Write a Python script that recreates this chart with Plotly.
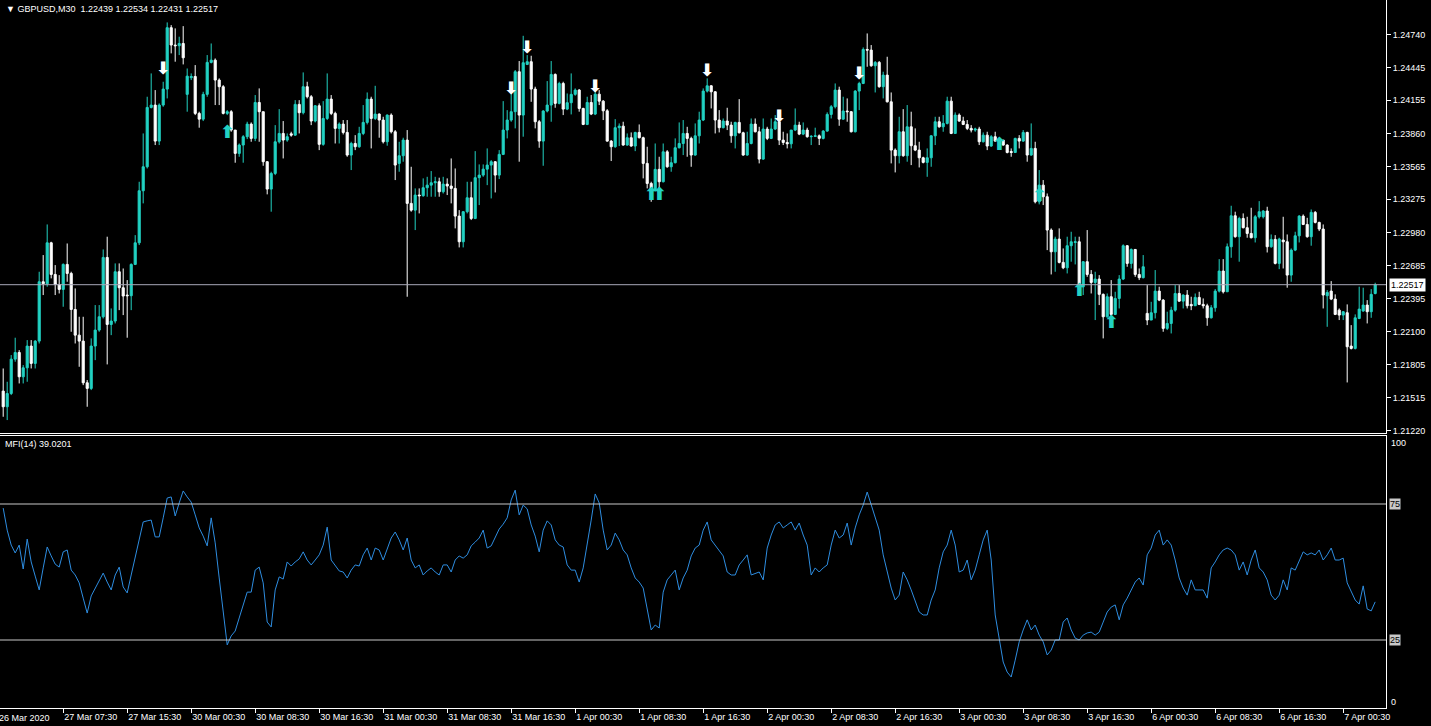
import plotly.graph_objects as go

# ---------------- data (GBPUSD M30) ----------------
open_ = [
1.21572,1.21433,1.21551,1.21856,1.21915,1.21699,1.21779,1.21972,1.21818,1.22016,
1.22543,1.22525,1.22889,1.22608,1.22519,1.22475,1.22697,1.22617,1.22297,1.22069,
1.22016,1.21646,1.21596,1.21972,1.22114,1.22232,1.22759,1.22164,1.22194,1.22632,
1.22490,1.22425,1.22419,1.22697,1.22889,1.23351,1.23564,1.24091,1.24112,1.23792,
1.24112,1.24254,1.24799,1.24645,1.24639,1.24659,1.24207,1.24355,1.24366,1.24038,
1.23987,1.24207,1.24491,1.24511,1.24334,1.24275,1.24038,1.24053,1.23890,1.23683,
1.23757,1.23831,1.23943,1.23816,1.24135,1.24053,1.23609,1.23366,1.23505,1.23786,
1.23860,1.23801,1.23857,1.23845,1.24118,1.24044,1.24275,1.24186,1.23970,1.24106,
1.23763,1.23993,1.24165,1.24038,1.23905,1.23943,1.23869,1.23668,1.23771,1.23742,
1.23860,1.23958,1.24165,1.23993,1.24032,1.23979,1.23786,1.24023,1.23875,1.23594,
1.23662,1.23801,1.23239,1.23179,1.23313,1.23307,1.23378,1.23401,1.23422,1.23431,
1.23342,1.23410,1.23393,1.23372,1.23126,1.22898,1.23165,1.23289,1.23105,1.23467,
1.23490,1.23543,1.23579,1.23609,1.23490,1.23674,1.23890,1.23979,1.24053,1.24408,
1.24023,1.24473,1.24497,1.24254,1.23964,1.23792,1.24059,1.24112,1.24384,1.24127,
1.24304,1.24076,1.24133,1.24207,1.24245,1.24082,1.23940,1.24135,1.24032,1.24209,
1.24147,1.24061,1.23792,1.23742,1.23911,1.23925,1.23757,1.23822,1.23748,1.23869,
1.23822,1.23594,1.23416,1.23357,1.23541,1.23431,1.23697,1.23564,1.23600,1.23733,
1.23771,1.23860,1.23816,1.23668,1.23839,1.23979,1.24236,1.24283,1.24230,1.23979,
1.23911,1.23970,1.23934,1.23839,1.23958,1.23866,1.23668,1.23771,1.23943,1.23875,
1.23632,1.23899,1.23816,1.23899,1.23964,1.23801,1.23780,1.23768,1.23890,1.23934,
1.23854,1.23890,1.23831,1.23834,1.23839,1.23816,1.23881,1.24029,1.24097,1.24245,
1.23987,1.24059,1.24053,1.23875,1.24236,1.24304,1.24606,1.24600,1.24461,1.24491,
1.24275,1.24378,1.24141,1.23712,1.23662,1.23875,1.23662,1.23919,1.23751,1.23712,
1.23644,1.23603,1.23644,1.23839,1.23964,1.23919,1.23949,1.24147,1.23860,1.24023,
1.23970,1.23940,1.23905,1.23890,1.23899,1.23786,1.23845,1.23748,1.23831,1.23792,
1.23801,1.23757,1.23700,1.23691,1.23816,1.23792,1.23869,1.23668,1.23727,1.23253,
1.23401,1.23298,1.23002,1.22809,1.22922,1.22715,1.22667,1.22863,1.22892,1.22898,
1.22499,1.22721,1.22608,1.22537,1.22567,1.22431,1.22232,1.22410,1.22253,1.22395,
1.22567,1.22863,1.22706,1.22830,1.22608,1.22579,1.22262,1.22203,1.22268,1.22460,
1.22380,1.22129,1.22173,1.22291,1.22439,1.22371,1.22425,1.22342,1.22330,1.22404,
1.22342,1.22330,1.22223,1.22312,1.22460,1.22638,1.22454,1.22854,1.23129,1.22943,
1.23105,1.23023,1.22972,1.22934,1.23120,1.23120,1.23171,1.22854,1.22919,1.22706,
1.22913,1.22898,1.22602,1.22824,1.22951,1.23126,1.23052,1.22943,1.23159,1.23070,
1.23011,1.22419,1.22460,1.22389,1.22291,1.22247,1.22268,1.21972,1.21951,1.22217,
1.22283,1.22336,1.22277,1.22439]

high = [
1.21773,1.21655,1.21892,1.22046,1.21936,1.21803,1.22025,1.22025,1.22025,1.22632,
1.22780,1.23052,1.22898,1.22691,1.22602,1.22706,1.22883,1.22632,1.22484,1.22232,
1.22232,1.21670,1.22040,1.22336,1.22336,1.22830,1.22943,1.22306,1.22706,1.22706,
1.22661,1.22558,1.22706,1.22957,1.23431,1.23860,1.24186,1.24393,1.24245,1.24127,
1.24319,1.24846,1.24822,1.24793,1.24719,1.24813,1.24437,1.24393,1.24467,1.24053,
1.24230,1.24556,1.24659,1.24526,1.24349,1.24289,1.24067,1.24067,1.23890,1.23771,
1.23845,1.23964,1.23958,1.24201,1.24260,1.24053,1.23615,1.23520,1.23934,1.24076,
1.23970,1.23860,1.23875,1.24156,1.24156,1.24402,1.24319,1.24201,1.24112,1.24127,
1.24147,1.24393,1.24201,1.24053,1.23958,1.23979,1.23979,1.23786,1.23845,1.23919,
1.24112,1.24224,1.24186,1.24283,1.24038,1.24008,1.24029,1.24038,1.23890,1.23786,
1.23822,1.23890,1.23564,1.23372,1.23372,1.23461,1.23475,1.23526,1.23475,1.23467,
1.23475,1.23461,1.23638,1.23549,1.23179,1.23171,1.23431,1.23431,1.23703,1.23585,
1.23585,1.23727,1.23623,1.23615,1.23712,1.24147,1.24067,1.24224,1.24423,1.24503,
1.24727,1.24556,1.24550,1.24275,1.23979,1.24067,1.24325,1.24503,1.24393,1.24319,
1.24319,1.24215,1.24393,1.24260,1.24254,1.24088,1.24186,1.24201,1.24245,1.24245,
1.24156,1.24076,1.23801,1.23987,1.23949,1.23964,1.23860,1.23869,1.23875,1.23940,
1.23831,1.23742,1.23431,1.23771,1.23653,1.23771,1.23712,1.23653,1.23816,1.23958,
1.23979,1.23919,1.23831,1.23949,1.24053,1.24260,1.24349,1.24289,1.24236,1.24067,
1.23993,1.24088,1.23964,1.23964,1.24165,1.23875,1.23875,1.23993,1.23993,1.23919,
1.23993,1.23919,1.23993,1.24023,1.24047,1.23875,1.23860,1.23890,1.24082,1.23964,
1.23958,1.23911,1.23845,1.23911,1.23851,1.23890,1.24047,1.24112,1.24304,1.24275,
1.24186,1.24171,1.24059,1.24245,1.24319,1.24624,1.24748,1.24645,1.24503,1.24503,
1.24408,1.24541,1.24224,1.23727,1.24008,1.24076,1.24112,1.24053,1.23905,1.23786,
1.23653,1.23727,1.23845,1.24008,1.24008,1.24023,1.24186,1.24186,1.24047,1.24038,
1.24008,1.23979,1.23934,1.23911,1.23919,1.23869,1.23875,1.23845,1.23875,1.23816,
1.23801,1.23763,1.23727,1.23822,1.23845,1.23890,1.23875,1.23949,1.23786,1.23535,
1.23446,1.23327,1.23017,1.22943,1.23017,1.22839,1.22943,1.22987,1.22943,1.22943,
1.22727,1.23002,1.22647,1.22632,1.22602,1.22439,1.22439,1.22558,1.22454,1.22602,
1.22875,1.22869,1.22839,1.22830,1.22661,1.22780,1.22513,1.22365,1.22647,1.22499,
1.22389,1.22277,1.22321,1.22513,1.22513,1.22431,1.22469,1.22410,1.22439,1.22454,
1.22395,1.22348,1.22336,1.22478,1.22744,1.22744,1.22883,1.23218,1.23165,1.23120,
1.23150,1.23120,1.23200,1.23135,1.23259,1.23179,1.23209,1.22963,1.22957,1.22934,
1.23120,1.22963,1.22839,1.22987,1.23135,1.23141,1.23111,1.23185,1.23171,1.23076,
1.23052,1.22469,1.22549,1.22431,1.22306,1.22283,1.22342,1.22158,1.22253,1.22499,
1.22490,1.22380,1.22478,1.22534]

low = [
1.21344,1.21315,1.21537,1.21833,1.21640,1.21640,1.21655,1.21773,1.21773,1.21995,
1.22425,1.22499,1.22573,1.22425,1.22439,1.22321,1.22543,1.22099,1.21995,1.21788,
1.21625,1.21433,1.21581,1.21847,1.22099,1.22217,1.21809,1.22069,1.22173,1.22291,
1.22247,1.22046,1.22291,1.22691,1.22869,1.23239,1.23549,1.24082,1.23757,1.23757,
1.24097,1.24171,1.24571,1.24497,1.24556,1.24473,1.24053,1.24334,1.24023,1.23911,
1.23970,1.24186,1.24482,1.24112,1.24112,1.24029,1.24023,1.23875,1.23600,1.23653,
1.23600,1.23810,1.23786,1.23792,1.23786,1.23573,1.23319,1.23165,1.23490,1.23771,
1.23638,1.23786,1.23831,1.23839,1.23860,1.24029,1.24171,1.23934,1.23958,1.23712,
1.23751,1.23979,1.24023,1.23771,1.23771,1.23851,1.23653,1.23535,1.23712,1.23733,
1.23845,1.23940,1.23727,1.23979,1.23822,1.23771,1.23751,1.23860,1.23446,1.23520,
1.23609,1.22410,1.23165,1.23002,1.23150,1.23298,1.23298,1.23298,1.23298,1.23298,
1.23327,1.23313,1.23239,1.23017,1.22848,1.22848,1.23150,1.23091,1.23099,1.23224,
1.23475,1.23401,1.23283,1.23336,1.23455,1.23668,1.23816,1.23964,1.23905,1.23609,
1.23831,1.24467,1.24141,1.23905,1.23733,1.23573,1.24047,1.23964,1.24088,1.24118,
1.24023,1.24067,1.24029,1.24195,1.24053,1.23934,1.23934,1.24023,1.24023,1.24112,
1.23979,1.23786,1.23615,1.23733,1.23748,1.23751,1.23751,1.23742,1.23703,1.23816,
1.23461,1.23372,1.23253,1.23348,1.23357,1.23425,1.23555,1.23520,1.23594,1.23727,
1.23668,1.23653,1.23564,1.23662,1.23771,1.23970,1.24224,1.24082,1.23860,1.23869,
1.23905,1.23890,1.23777,1.23727,1.23860,1.23662,1.23662,1.23763,1.23869,1.23594,
1.23626,1.23801,1.23810,1.23890,1.23757,1.23757,1.23727,1.23727,1.23881,1.23845,
1.23845,1.23822,1.23757,1.23828,1.23757,1.23807,1.23875,1.23993,1.24082,1.23928,
1.23982,1.23964,1.23869,1.23869,1.24067,1.24298,1.24452,1.24452,1.24224,1.24266,
1.24171,1.24135,1.23594,1.23514,1.23594,1.23653,1.23609,1.23579,1.23703,1.23558,
1.23594,1.23475,1.23564,1.23757,1.23911,1.23875,1.23940,1.23854,1.23860,1.23964,
1.23934,1.23890,1.23869,1.23875,1.23757,1.23780,1.23712,1.23742,1.23786,1.23771,
1.23751,1.23683,1.23653,1.23686,1.23727,1.23786,1.23609,1.23662,1.23239,1.23230,
1.23224,1.22824,1.22608,1.22632,1.22706,1.22655,1.22617,1.22721,1.22697,1.22425,
1.22425,1.22587,1.22439,1.22203,1.22336,1.22040,1.22223,1.22232,1.22247,1.22306,
1.22558,1.22676,1.22661,1.22587,1.22558,1.22573,1.22158,1.22203,1.22217,1.22371,
1.22099,1.22114,1.22084,1.22277,1.22365,1.22306,1.22306,1.22291,1.22330,1.22336,
1.22306,1.22152,1.22217,1.22277,1.22448,1.22439,1.22454,1.22756,1.22934,1.22721,
1.23017,1.22934,1.22928,1.22892,1.23105,1.23105,1.22803,1.22845,1.22697,1.22655,
1.22661,1.22490,1.22543,1.22815,1.22892,1.23046,1.22934,1.22863,1.23061,1.22993,
1.22306,1.22143,1.22380,1.22247,1.22203,1.22203,1.21649,1.21942,1.21942,1.22211,
1.22277,1.22173,1.22223,1.22431]

close = [
1.21433,1.21551,1.21856,1.21915,1.21699,1.21779,1.21972,1.21818,1.22016,1.22543,
1.22525,1.22889,1.22608,1.22519,1.22475,1.22697,1.22617,1.22297,1.22069,1.22016,
1.21646,1.21596,1.21972,1.22114,1.22232,1.22759,1.22164,1.22194,1.22632,1.22490,
1.22416,1.22419,1.22697,1.22889,1.23351,1.23564,1.24091,1.24112,1.23792,1.24112,
1.24254,1.24799,1.24645,1.24639,1.24659,1.24532,1.24369,1.24366,1.24038,1.23987,
1.24207,1.24491,1.24511,1.24334,1.24275,1.24038,1.24053,1.23890,1.23683,1.23757,
1.23831,1.23943,1.23816,1.24135,1.24053,1.23609,1.23366,1.23505,1.23786,1.23860,
1.23801,1.23831,1.23845,1.24118,1.24044,1.24275,1.24186,1.23970,1.24106,1.23763,
1.23993,1.24165,1.24038,1.23905,1.23943,1.23869,1.23668,1.23771,1.23742,1.23860,
1.23958,1.24165,1.23993,1.24032,1.23979,1.23786,1.24023,1.23875,1.23579,1.23662,
1.23801,1.23239,1.23179,1.23313,1.23307,1.23378,1.23401,1.23422,1.23431,1.23342,
1.23410,1.23393,1.23372,1.23126,1.22898,1.23165,1.23289,1.23105,1.23467,1.23490,
1.23543,1.23579,1.23609,1.23490,1.23674,1.23890,1.23979,1.24053,1.24408,1.24023,
1.24488,1.24497,1.24254,1.23964,1.23792,1.24059,1.24112,1.24384,1.24127,1.24304,
1.24076,1.24133,1.24207,1.24245,1.24082,1.23940,1.24135,1.24032,1.24209,1.24147,
1.24061,1.23792,1.23742,1.23911,1.23925,1.23757,1.23822,1.23748,1.23869,1.23822,
1.23594,1.23416,1.23357,1.23541,1.23431,1.23697,1.23564,1.23600,1.23733,1.23771,
1.23860,1.23816,1.23668,1.23839,1.23979,1.24236,1.24283,1.24230,1.23979,1.23911,
1.23970,1.23934,1.23839,1.23958,1.23866,1.23668,1.23771,1.23943,1.23875,1.23632,
1.23899,1.23816,1.23899,1.23964,1.23801,1.23780,1.23768,1.23890,1.23934,1.23854,
1.23890,1.23831,1.23834,1.23839,1.23816,1.23881,1.24029,1.24097,1.24245,1.23987,
1.24059,1.24053,1.23875,1.24236,1.24304,1.24606,1.24600,1.24461,1.24491,1.24275,
1.24378,1.24141,1.23712,1.23662,1.23875,1.23662,1.23919,1.23751,1.23712,1.23644,
1.23603,1.23644,1.23839,1.23964,1.23919,1.23949,1.24147,1.23860,1.24023,1.23970,
1.23940,1.23905,1.23890,1.23899,1.23786,1.23845,1.23748,1.23831,1.23792,1.23801,
1.23757,1.23691,1.23691,1.23816,1.23792,1.23869,1.23668,1.23727,1.23253,1.23401,
1.23298,1.23002,1.22809,1.22922,1.22715,1.22667,1.22863,1.22898,1.22898,1.22499,
1.22721,1.22608,1.22537,1.22567,1.22431,1.22232,1.22410,1.22253,1.22395,1.22567,
1.22863,1.22706,1.22830,1.22608,1.22579,1.22676,1.22203,1.22268,1.22460,1.22380,
1.22129,1.22173,1.22291,1.22439,1.22371,1.22425,1.22330,1.22330,1.22404,1.22342,
1.22330,1.22223,1.22312,1.22460,1.22638,1.22454,1.22854,1.23129,1.22943,1.23105,
1.23023,1.22972,1.22934,1.23120,1.23165,1.23171,1.22854,1.22919,1.22706,1.22922,
1.22898,1.22602,1.22824,1.22951,1.23126,1.23052,1.22943,1.23159,1.23070,1.23011,
1.22425,1.22448,1.22389,1.22253,1.22247,1.22277,1.21966,1.21951,1.22223,1.22300,
1.22336,1.22277,1.22431,1.22517]

mfi = [
73.5,65.4,59.9,57.0,59.9,51.1,62.1,53.7,48.5,43.4,
51.5,59.2,55.9,52.9,51.8,57.4,58.1,50.7,48.9,46.0,
40.4,34.9,41.2,44.1,47.1,49.6,46.3,43.4,48.9,51.8,
44.5,42.3,48.9,55.1,61.8,68.4,68.8,69.1,62.9,62.9,
69.9,77.2,77.6,70.6,75.4,79.8,77.6,75.7,71.0,66.2,
63.2,59.6,69.9,60.7,47.8,35.3,23.2,26.5,28.3,33.1,
37.9,42.6,42.6,50.7,51.8,46.0,31.6,29.8,43.4,48.2,
47.4,53.7,52.2,53.7,54.8,57.4,54.4,52.6,54.4,56.3,
59.9,66.5,54.4,52.2,50.4,50.0,47.8,50.7,52.6,52.2,
56.3,58.8,54.4,58.8,58.1,54.4,58.8,62.5,64.7,61.8,
58.1,62.5,54.4,51.5,52.6,48.9,50.4,51.5,50.0,48.9,
52.6,52.6,50.0,54.4,55.9,55.1,56.3,59.6,61.0,62.5,
65.4,58.8,59.6,62.5,65.8,67.6,69.9,76.5,80.1,71.0,
74.6,73.2,67.3,63.2,57.4,65.4,68.8,67.3,61.8,59.9,
59.2,52.6,50.7,50.7,46.3,51.5,59.9,69.1,78.7,75.4,
65.4,58.1,59.9,64.3,61.8,58.1,56.3,51.5,47.8,46.3,
44.1,36.0,28.7,30.5,29.4,42.6,47.1,48.9,50.7,43.4,
47.8,50.7,55.9,58.8,59.9,65.4,68.4,61.8,59.9,58.1,
55.9,50.0,48.9,48.9,52.6,54.4,56.3,48.9,49.6,50.0,
47.1,58.8,63.6,67.3,68.4,66.2,67.3,68.4,65.4,68.0,
63.6,59.9,48.9,51.5,50.0,51.5,52.6,59.9,65.4,62.5,
63.6,68.0,59.9,66.2,71.0,74.6,79.4,74.6,69.9,65.4,
56.3,50.0,44.1,39.7,41.5,50.0,47.1,43.4,39.7,35.3,
34.2,34.2,39.7,43.4,51.5,57.4,59.9,65.4,59.9,50.0,
50.7,54.4,47.1,50.7,56.3,61.8,65.4,54.4,34.2,25.0,
16.9,13.2,11.4,17.6,24.3,28.7,32.4,28.7,30.5,26.8,
24.3,19.5,21.3,25.0,25.0,31.6,33.1,28.7,25.7,25.0,
26.8,27.6,27.9,26.8,27.9,31.6,35.3,37.1,37.9,32.4,
37.9,40.4,43.4,46.3,47.8,45.2,56.3,58.8,63.6,65.4,
59.9,61.8,59.9,54.4,47.8,44.1,41.5,47.1,43.4,43.4,
43.4,40.4,51.5,53.7,56.3,58.1,58.8,58.1,56.3,50.7,
53.7,48.9,54.4,58.1,51.5,50.0,47.1,41.5,39.7,41.5,
47.1,43.4,51.5,50.7,54.4,57.4,56.3,57.0,56.3,58.1,
54.4,56.3,58.8,54.4,54.4,55.1,46.0,42.6,39.7,38.2,
44.9,36.4,35.7,39.0201]

# signal arrows (bar index, price)
down_bars = [40, 127, 131, 148, 176, 194, 214]
down_prices = [1.24423, 1.24245, 1.24616, 1.24263, 1.24408, 1.23999, 1.24379]
up_bars = [56, 162, 164, 249, 259, 269, 277]
up_prices = [1.23861, 1.23313, 1.23313, 1.23757, 1.23298, 1.22458, 1.22174]

# axis labels
price_ticks = [1.24740, 1.24445, 1.24155, 1.23860, 1.23565, 1.23275, 1.22980,
               1.22685, 1.22395, 1.22100, 1.21805, 1.21515, 1.21220]
time_tick_bars = [15, 31, 47, 63, 79, 95, 111, 127, 143, 159, 175,
                  191, 207, 223, 239, 255, 271, 287, 303, 319, 335]
time_tick_text = ["27 Mar 07:30", "27 Mar 15:30", "30 Mar 00:30", "30 Mar 08:30",
                  "30 Mar 16:30", "31 Mar 00:30", "31 Mar 08:30", "31 Mar 16:30",
                  "1 Apr 00:30", "1 Apr 08:30", "1 Apr 16:30", "2 Apr 00:30",
                  "2 Apr 08:30", "2 Apr 16:30", "3 Apr 00:30", "3 Apr 08:30",
                  "3 Apr 16:30", "6 Apr 00:30", "6 Apr 08:30", "6 Apr 16:30",
                  "7 Apr 00:30"]
first_date_label = "26 Mar 2020"
last_price = 1.22517
mfi_levels = [75, 25]

n = len(close)
assert len(open_) == n and len(high) == n and len(low) == n and len(mfi) == n, \
    (len(open_), len(high), len(low), len(close), len(mfi))
bars = list(range(n))

BULL = "#22D2C3"
BEAR = "#FFFFFF"
FONT = "Liberation Sans"

fig = go.Figure()
fig.add_trace(go.Candlestick(
    x=bars, open=open_, high=high, low=low, close=close,
    increasing=dict(line=dict(color=BULL, width=1), fillcolor=BULL),
    decreasing=dict(line=dict(color=BEAR, width=1), fillcolor=BEAR),
    whiskerwidth=0, hoverinfo="skip", xaxis="x", yaxis="y"))

fig.add_trace(go.Scatter(
    x=down_bars, y=down_prices, mode="text", text=["<b>⬇</b>"] * len(down_bars),
    textfont=dict(color="white", size=17, family="DejaVu Sans"),
    hoverinfo="skip", xaxis="x", yaxis="y"))
fig.add_trace(go.Scatter(
    x=up_bars, y=up_prices, mode="text", text=["<b>⬆</b>"] * len(up_bars),
    textfont=dict(color=BULL, size=18, family="DejaVu Sans"),
    hoverinfo="skip", xaxis="x", yaxis="y"))

fig.add_trace(go.Scatter(
    x=bars, y=mfi, mode="lines", line=dict(color="#2E8DE0", width=1),
    hoverinfo="skip", xaxis="x2", yaxis="y2"))

XR = [-0.8, n + 1.7]
MAIN_BOTTOM = 1 - 433 / 708
SUB_TOP = (708 - 436) / 708

fig.update_layout(
    template="none",
    width=1431, height=726,
    margin=dict(l=0, r=45, t=0, b=18, pad=0, autoexpand=False),
    paper_bgcolor="black", plot_bgcolor="black",
    showlegend=False,
    boxgap=0.25,
    font=dict(family=FONT, size=9, color="white"),
    xaxis=dict(domain=[0, 1], range=XR, anchor="y", showticklabels=False,
               ticks="", showgrid=False, zeroline=False, showline=True,
               linecolor="white", linewidth=1, mirror=True,
               rangeslider=dict(visible=False)),
    yaxis=dict(domain=[MAIN_BOTTOM, 1], range=[1.21200, 1.25045], anchor="x",
               side="right", tickmode="array", tickvals=price_ticks,
               ticktext=[f"{v:.5f}" for v in price_ticks],
               ticks="outside", ticklen=4, tickcolor="white",
               tickfont=dict(family=FONT, size=9, color="white"),
               showgrid=False, zeroline=False, showline=True,
               linecolor="white", linewidth=1),
    xaxis2=dict(domain=[0, 1], range=XR, anchor="y2", tickmode="array",
                tickvals=time_tick_bars, ticktext=time_tick_text,
                ticks="outside", ticklen=4, tickcolor="white",
                ticklabelposition="outside right",
                tickfont=dict(family=FONT, size=9, color="white"),
                showgrid=False, zeroline=False, showline=True,
                linecolor="white", linewidth=1, mirror=True),
    yaxis2=dict(domain=[0, SUB_TOP], range=[0, 100], anchor="x2",
                side="right", tickvals=[], showgrid=False, zeroline=False,
                showline=True, linecolor="white", linewidth=1),
)

shapes = [dict(type="line", xref="paper", x0=0, x1=1, yref="y",
               y0=last_price, y1=last_price,
               line=dict(color="#A8A8B8", width=1))]
for lv in mfi_levels:
    shapes.append(dict(type="line", xref="paper", x0=0, x1=1, yref="y2",
                       y0=lv, y1=lv, line=dict(color="#C8C8C8", width=1)))
fig.update_layout(shapes=shapes)

ann = [
    dict(xref="paper", x=1, xanchor="left", xshift=3, yref="y", y=last_price,
         text=f"{last_price:.5f}", showarrow=False, bgcolor="white",
         font=dict(color="black", size=9, family=FONT), borderpad=1),
    dict(xref="paper", x=0, xanchor="left", xshift=4, yref="paper", y=1,
         yanchor="top", yshift=-2,
         text="▼ GBPUSD,M30\u00a0\u00a0" + " ".join(f"{v:.5f}" for v in
              [open_[-1], high[-1], low[-1], close[-1]]),
         showarrow=False, font=dict(color="white", size=9, family=FONT)),
    dict(xref="paper", x=0, xanchor="left", xshift=3, yref="paper",
         y=(708 - 444) / 708, yanchor="middle",
         text=f"MFI(14) {mfi[-1]:.4f}", showarrow=False,
         font=dict(color="white", size=9, family=FONT)),
    dict(xref="paper", x=0, xanchor="left", xshift=-3, yref="paper",
         y=(708 - 718) / 708, yanchor="middle", text=first_date_label,
         showarrow=False, font=dict(color="white", size=9, family=FONT)),
    dict(xref="paper", x=1, xanchor="left", xshift=3, yref="y2", y=97.4,
         text="100", showarrow=False,
         font=dict(color="white", size=9, family=FONT)),
    dict(xref="paper", x=1, xanchor="left", xshift=3, yref="y2", y=2.2,
         text="0", showarrow=False,
         font=dict(color="white", size=9, family=FONT)),
]
for lv in mfi_levels:
    ann.append(dict(xref="paper", x=1, xanchor="left", xshift=3, yref="y2",
                    y=lv, text=str(lv), showarrow=False, bgcolor="#C8C8C8",
                    borderpad=0, font=dict(color="black", size=9, family=FONT)))
fig.update_layout(annotations=ann)

fig.write_html("out.html",
               config={"displayModeBar": False},
               post_script="document.body.style.margin='0';"
                           "document.body.style.background='black';")
